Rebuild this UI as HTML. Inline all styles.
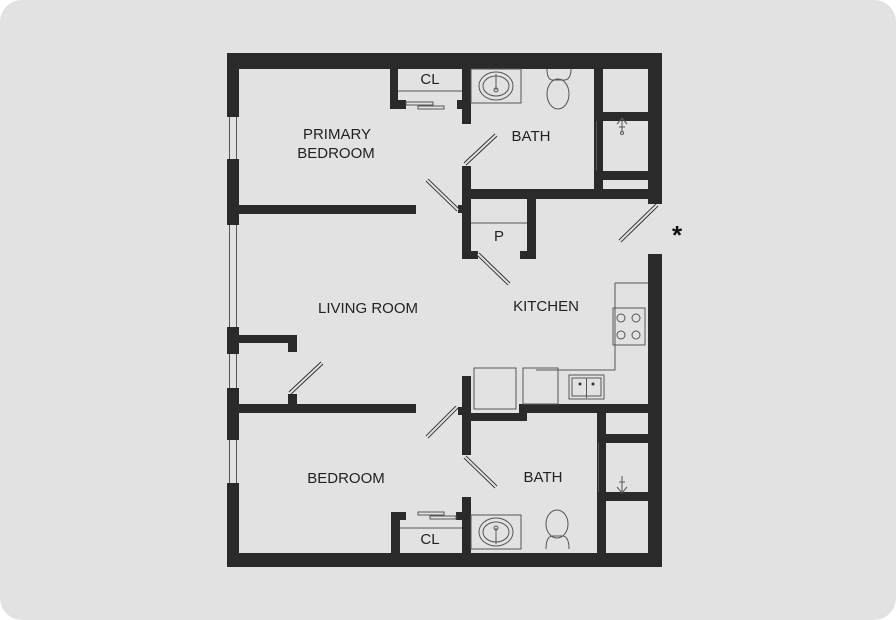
<!DOCTYPE html>
<html><head><meta charset="utf-8"><style>
html,body{margin:0;padding:0;background:#fff;}
svg{display:block}
text{font-family:"Liberation Sans",sans-serif;font-size:15px;fill:#222;text-anchor:middle}
</style></head><body>
<svg width="896" height="620" viewBox="0 0 896 620" xmlns="http://www.w3.org/2000/svg">
<rect x="0" y="0" width="896" height="620" rx="22" fill="#e2e2e2"/>
<g fill="#2a2a2a">
<rect x="227" y="53" width="435" height="16"/>
<rect x="227" y="53" width="12" height="64"/>
<rect x="227" y="159" width="12" height="66"/>
<rect x="227" y="327" width="12" height="27"/>
<rect x="227" y="388" width="12" height="52"/>
<rect x="227" y="483" width="12" height="84"/>
<rect x="227" y="553" width="435" height="14"/>
<rect x="648" y="53" width="14" height="151"/>
<rect x="648" y="254" width="14" height="313"/>
<rect x="239" y="205" width="177" height="9"/>
<rect x="390" y="69" width="8" height="40"/>
<rect x="390" y="100" width="16" height="9"/>
<rect x="462" y="69" width="9" height="55"/>
<rect x="457" y="100" width="6" height="9"/>
<rect x="462" y="166" width="9" height="93"/>
<rect x="458" y="205" width="5" height="8"/>
<rect x="471" y="189" width="177" height="10"/>
<rect x="594" y="69" width="9" height="130"/>
<rect x="603" y="112" width="45" height="9"/>
<rect x="603" y="171" width="45" height="9"/>
<rect x="527" y="199" width="9" height="60"/>
<rect x="520" y="251" width="16" height="8"/>
<rect x="462" y="251" width="16" height="8"/>
<rect x="239" y="335" width="58" height="8"/>
<rect x="288" y="335" width="9" height="17"/>
<rect x="239" y="404" width="177" height="9"/>
<rect x="288" y="394" width="9" height="12"/>
<rect x="462" y="376" width="9" height="79"/>
<rect x="458" y="407" width="5" height="8"/>
<rect x="519" y="404" width="129" height="9"/>
<rect x="462" y="413" width="65" height="8"/>
<rect x="597" y="413" width="9" height="140"/>
<rect x="606" y="434" width="42" height="9"/>
<rect x="606" y="492" width="42" height="9"/>
<rect x="391" y="512" width="9" height="41"/>
<rect x="391" y="512" width="15" height="8"/>
<rect x="462" y="497" width="9" height="56"/>
<rect x="456" y="512" width="7" height="8"/>
</g>
<g fill="none" stroke="#555" stroke-width="1">
<path d="M229.5 117V159M236.5 117V159M229.5 225V327M236.5 225V327M229.5 354V388M236.5 354V388M229.5 440V483M236.5 440V483"/>
<path d="M398 91H462M400 528H462M471 223H527"/>
<rect x="406" y="102" width="27" height="3"/><rect x="418" y="106" width="26" height="3"/>
<rect x="418" y="512" width="26" height="3"/><rect x="430" y="516" width="26" height="3"/>
<path d="M596.5 121V171M598.5 443V492"/>
<rect x="471" y="69" width="50" height="34"/>
<ellipse cx="496" cy="86" rx="17" ry="14"/><ellipse cx="496" cy="86" rx="13" ry="10"/>
<path d="M496 74V90"/><circle cx="496" cy="90" r="2"/>
<path d="M547 69Q547 79 552 80H565Q571 79 571 69"/><ellipse cx="558" cy="94" rx="11" ry="15"/>
<rect x="471" y="515" width="50" height="34"/>
<ellipse cx="496" cy="532" rx="17" ry="14"/><ellipse cx="496" cy="532" rx="13" ry="10"/>
<path d="M496 528V544"/><circle cx="496" cy="528" r="2"/>
<ellipse cx="557" cy="524" rx="11" ry="14"/><path d="M546 549Q546 537 552 536H563Q569 537 569 549"/>
<path d="M615 283H648M615 283V370H536"/>
<rect x="613" y="308" width="32" height="37"/>
<circle cx="621" cy="318" r="4"/><circle cx="636" cy="318" r="4"/><circle cx="621" cy="335" r="4"/><circle cx="636" cy="335" r="4"/>
<rect x="474" y="368" width="42" height="41"/>
<rect x="523" y="368" width="35" height="36"/>
<rect x="569" y="375" width="35" height="24"/><rect x="572" y="378" width="29" height="18"/>
<path d="M586.5 378V398"/>
</g>
<g fill="#333"><circle cx="580" cy="384" r="1.5"/><circle cx="593" cy="384" r="1.5"/></g>
<g stroke="#333" stroke-width="4"><path d="M427 180L458 210M465 164L496 135M478 254L509 284M657 205L620 241M290 393L322 363M427 437L457 407M465 457L496 487"/></g>
<g stroke="#e2e2e2" stroke-width="2"><path d="M427 180L458 210M465 164L496 135M478 254L509 284M657 205L620 241M290 393L322 363M427 437L457 407M465 457L496 487"/></g>
<g stroke="#555" fill="none"><path d="M617 124L622 118L627 124M622 119V132M619 127H625"/><circle cx="622" cy="133" r="1.5"/>
<path d="M617 487L622 493L627 487M622 476V492M619 482H625"/></g>
<text x="677" y="244" style="font-size:26px;font-weight:bold;fill:#111">*</text>
<text x="337" y="139">PRIMARY</text>
<text x="336" y="158">BEDROOM</text>
<text x="430" y="84">CL</text>
<text x="531" y="141">BATH</text>
<text x="499" y="241">P</text>
<text x="368" y="313">LIVING ROOM</text>
<text x="546" y="311">KITCHEN</text>
<text x="346" y="483">BEDROOM</text>
<text x="543" y="482">BATH</text>
<text x="430" y="544">CL</text>
</svg>
</body></html>
